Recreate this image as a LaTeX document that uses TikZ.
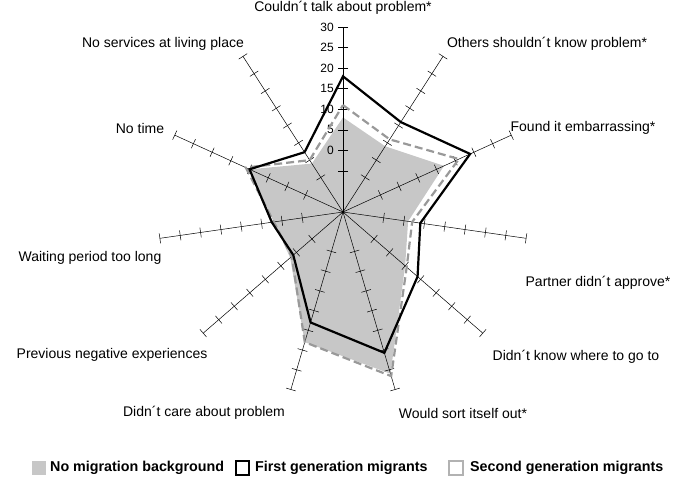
\documentclass[tikz,border=0pt]{standalone}
\usepackage{fontspec}
\setmainfont{Liberation Sans}
\begin{document}
\begin{tikzpicture}[x=1pt,y=1pt,
  lab/.style={font=\fontsize{14}{16}\selectfont, inner sep=0pt},
  leg/.style={font=\bfseries\fontsize{14.3}{16}\selectfont, inner sep=0pt, anchor=west},
  first/.style={line width=2.2pt, black, line join=miter},
  second/.style={line width=2.2pt, gray!80, dash pattern=on 8pt off 4pt},
  nomig/.style={fill=black!22, draw=none},
  axisline/.style={line width=0.5pt, black}]
\useasboundingbox (-343,-271) rectangle (342,212);
\foreach \k/\a/\b/\c in {0/8/18/11,1/4/11/6,2/12/19/16,3/1/4/2,4/5/9/5.5,5/26/20.7/26.6,6/18/13/18,7/2/1/1.5,8/2/2.5/2,9/10/10/11,10/-1/2.3/0}{
  \pgfmathsetmacro\ang{90-\k*360/11}
  \coordinate (f\k) at (\ang:{(\a+15)*185/45});
  \coordinate (b\k) at (\ang:{(\b+15)*185/45});
  \coordinate (s\k) at (\ang:{(\c+15)*185/45});
}
\fill[nomig] (f0)--(f1)--(f2)--(f3)--(f4)--(f5)--(f6)--(f7)--(f8)--(f9)--(f10)--cycle;
\coordinate (c) at (0,0);
\foreach \k in {0,...,10}{
  \pgfmathsetmacro\ang{90-\k*360/11}
  \coordinate (e\k) at (\ang:185);
  \draw[axisline] (c) -- (e\k);
  \foreach \v in {-5,0,...,30}{
    \draw[axisline,shift={(\ang:{(\v+15)*185/45})},rotate=\ang] (0,-5)--(0,5);
  }
}
\fill (c) circle (1.5);
\foreach \v in {0,5,...,30}{
  \node[lab,anchor=east,font=\fontsize{12}{14}\selectfont] (t\v) at (-9,{(\v+15)*185/45}) {\v};
}
\draw[second] (s0)--(s1)--(s2)--(s3)--(s4)--(s5)--(s6)--(s7)--(s8)--(s9)--(s10)--cycle;
\draw[first] (b0)--(b1)--(b2)--(b3)--(b4)--(b5)--(b6)--(b7)--(b8)--(b9)--(b10)--cycle;
\node[lab] (l0) at (0,204) {Couldn´t talk about problem*};
\node[lab] (l1) at (204,168) {Others shouldn´t know problem*};
\node[lab] (l2) at (240,84) {Found it embarrassing*};
\node[lab] (l3) at (255,-71) {Partner didn´t approve*};
\node[lab] (l4) at (233,-145) {Didn´t know where to go to};
\node[lab] (l5) at (120,-201) {Would sort itself out*};
\node[lab] (l6) at (-139,-201) {Didn´t care about problem};
\node[lab] (l7) at (-231,-143) {Previous negative experiences};
\node[lab] (l8) at (-253,-46) {Waiting period too long};
\node[lab] (l9) at (-203,84) {No time};
\node[lab] (l10) at (-180,168) {No services at living place};
\fill[black!22] (-311,-263) rectangle (-297,-249);
\node[leg] (g1) at (-293,-256) {No migration background};
\draw[line width=1.3pt] (-107,-263) rectangle (-94,-249);
\node[leg] (g2) at (-88,-256) {First generation migrants};
\draw[line width=1.3pt,black!30] (106,-263) rectangle (120,-249);
\node[leg] (g3) at (127,-256) {Second generation migrants};
\end{tikzpicture}
\end{document}
